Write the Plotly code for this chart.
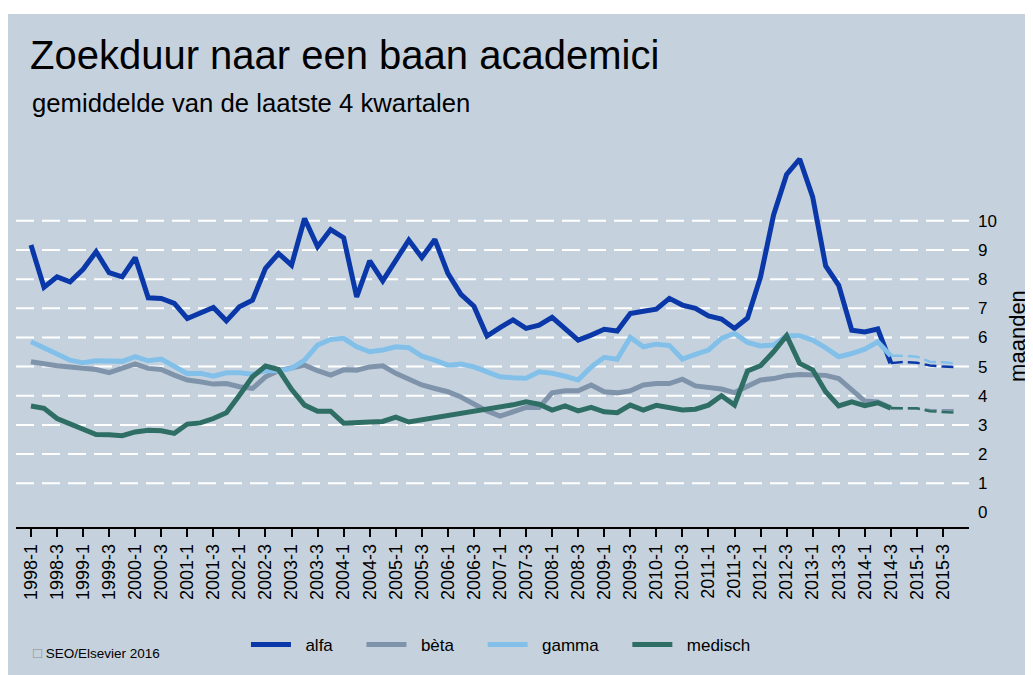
import plotly.graph_objects as go

# ---------------- data ----------------
years = list(range(1998, 2016))
quarters = [f"{y}-{q}" for y in years for q in (1, 2, 3, 4)]  # 1998-1 .. 2015-4
tick_labels = quarters[::2]

n_actual = 67  # 1998-1 .. 2014-3
actual_q = quarters[:n_actual]
forecast_q = quarters[n_actual - 1:n_actual + 5]  # 2014-3 .. 2015-4

alfa = [9.17, 7.72, 8.08, 7.91, 8.34, 8.94, 8.22, 8.08, 8.74, 7.36, 7.34, 7.17, 6.65,
        6.82, 7.03, 6.57, 7.05, 7.28, 8.37, 8.88, 8.48, 10.08, 9.11, 9.70, 9.42,
        7.39, 8.63, 7.94, 8.65, 9.34, 8.74, 9.36, 8.20, 7.48, 7.07, 6.05, 6.34, 6.60,
        6.31, 6.42, 6.69, 6.31, 5.91, 6.08, 6.28, 6.22, 6.82, 6.90, 6.97, 7.34,
        7.11, 7.00, 6.74, 6.63, 6.31, 6.67, 8.08, 10.20, 11.59, 12.12, 10.82, 8.45,
        7.79, 6.25, 6.19, 6.29, 5.12]
beta = [5.17, 5.09, 5.03, 4.99, 4.94, 4.90, 4.79, 4.94, 5.09, 4.94, 4.90, 4.71, 4.54,
        4.48, 4.40, 4.42, 4.31, 4.25, 4.65, 4.86, 4.94, 5.05, 4.86, 4.71, 4.89,
        4.88, 4.99, 5.03, 4.77, 4.56, 4.37, 4.25, 4.14, 3.96, 3.71, 3.48, 3.30, 3.44,
        3.60, 3.60, 4.10, 4.17, 4.17, 4.37, 4.14, 4.10, 4.17, 4.37, 4.42, 4.42,
        4.57, 4.34, 4.27, 4.23, 4.11, 4.31, 4.54, 4.59, 4.69, 4.73, 4.71, 4.70,
        4.59, 4.23, 3.82, 3.79, 3.59]
gamma = [5.85, 5.62, 5.43, 5.22, 5.13, 5.20, 5.19, 5.18, 5.34, 5.20, 5.26, 4.99, 4.76,
         4.77, 4.67, 4.79, 4.79, 4.74, 4.86, 4.86, 4.94, 5.22, 5.74, 5.93, 5.97,
         5.68, 5.51, 5.57, 5.68, 5.65, 5.36, 5.22, 5.05, 5.09, 4.99, 4.82, 4.65, 4.62,
         4.60, 4.82, 4.77, 4.67, 4.54, 4.99, 5.32, 5.25, 6.00, 5.68, 5.77, 5.72,
         5.26, 5.42, 5.57, 5.97, 6.14, 5.83, 5.71, 5.74, 6.06, 6.06, 5.91, 5.64,
         5.34, 5.45, 5.60, 5.85, 5.37]
medisch = [3.65, 3.57, 3.22, 3.05, 2.88, 2.67, 2.66, 2.63, 2.76, 2.82, 2.80, 2.71, 3.03,
           3.07, 3.22, 3.42, 4.02, 4.65, 5.02, 4.90, 4.22, 3.68, 3.47, 3.47, 3.06,
           3.10, 3.10, 3.12, 3.27, 3.10, 3.17, 3.25, 3.33, 3.40, 3.48, 3.55, 3.61, 3.69,
           3.79, 3.71, 3.51, 3.65, 3.48, 3.60, 3.45, 3.42, 3.68, 3.51, 3.67, 3.58,
           3.51, 3.54, 3.68, 4.00, 3.68, 4.85, 5.03, 5.51, 6.06, 5.11, 4.89, 4.14,
           3.65, 3.79, 3.66, 3.76, 3.57]

alfa_fc = [5.12, 5.16, 5.13, 5.04, 5.00, 4.98]
beta_fc = [3.59, 3.57, 3.56, 3.51, 3.50, 3.50]
gamma_fc = [5.37, 5.37, 5.34, 5.17, 5.15, 5.11]
medisch_fc = [3.57, 3.58, 3.57, 3.47, 3.45, 3.42]

y_ticks = list(range(0, 11))
grid_levels = list(range(1, 11))

# ---------------- styling ----------------
BG = "#c5d2de"
FONT = "Liberation Sans, Arial, sans-serif"
NB = "\u00a0"
series = [
    ("alfa", alfa, alfa_fc, "#0a38a8", 5),
    ("bèta", beta, beta_fc, "#7f94ab", 5),
    ("gamma", gamma, gamma_fc, "#82c0ea", 5),
    ("medisch", medisch, medisch_fc, "#2e6e64", 5),
]

fig = go.Figure()
for name, vals, fc, color, w in series:
    fig.add_trace(go.Scatter(x=actual_q, y=vals, mode="lines",
                             name=NB * 2 + name + NB * 5,
                             line=dict(color=color, width=w), hoverinfo="skip"))
for name, vals, fc, color, w in series:
    fig.add_trace(go.Scatter(x=forecast_q, y=fc, mode="lines", name=name + " prognose",
                             showlegend=False,
                             line=dict(color=color, width=2.5, dash="12px,5px"),
                             hoverinfo="skip"))

shapes = []
for v in grid_levels:
    shapes.append(dict(type="line", xref="paper", yref="y", x0=0, x1=1, y0=v, y1=v,
                       line=dict(color="white", width=2, dash="18px,8px"), layer="below"))
# thin white strip along the top edge of the original picture
shapes.append(dict(type="rect", xref="paper", yref="paper", x0=-0.05, x1=1.2,
                   y0=1.343, y1=1.5, fillcolor="white", line=dict(width=0), layer="below"))

fig.update_layout(
    width=1025, height=667,
    margin=dict(l=8, r=64, t=137, b=148, autoexpand=False),
    paper_bgcolor=BG, plot_bgcolor=BG,
    font=dict(family=FONT, color="#000000"),
    shapes=shapes,
    showlegend=True,
    legend=dict(orientation="h", x=0.2413, y=-0.309, xanchor="left", yanchor="middle",
                font=dict(size=17, family=FONT), bgcolor="rgba(0,0,0,0)",
                itemwidth=40, traceorder="normal"),
    xaxis=dict(type="category", categoryorder="array", categoryarray=quarters,
               tickmode="array", tickvals=tick_labels, ticktext=tick_labels,
               tickangle=-90, tickfont=dict(size=18, family=FONT),
               ticks="outside", ticklen=8, tickwidth=1.5, tickcolor="black",
               showline=True, linecolor="black", linewidth=1.5,
               showgrid=False, zeroline=False, range=[-1.15, 72.0]),
    yaxis=dict(side="right", range=[-0.5, 12.6], tickmode="array", tickvals=y_ticks,
               tickfont=dict(size=17, family=FONT), showgrid=False, zeroline=False,
               showline=False, ticks="", ticklabelstandoff=8,
               title=dict(text="maanden", font=dict(size=22, family=FONT), standoff=13)),
    annotations=[
        dict(text="Zoekduur naar een baan academici", xref="paper", yref="paper",
             x=0.0126, y=1.2356, xanchor="left", yanchor="middle", showarrow=False,
             font=dict(size=40, family=FONT)),
        dict(text="gemiddelde van de laatste 4 kwartalen", xref="paper", yref="paper",
             x=0.0147, y=1.11, xanchor="left", yanchor="middle", showarrow=False,
             font=dict(size=25.7, family=FONT)),
        dict(text="<span style='font-size:15px;color:#8a8a8a'>□</span> SEO/Elsevier 2016",
             xref="paper", yref="paper", x=(31 - 16) / 953, y=(527 - 652) / 382,
             xanchor="left", yanchor="middle", showarrow=False,
             font=dict(size=13.5, family=FONT)),
    ],
)

fig.write_html("out.html")
